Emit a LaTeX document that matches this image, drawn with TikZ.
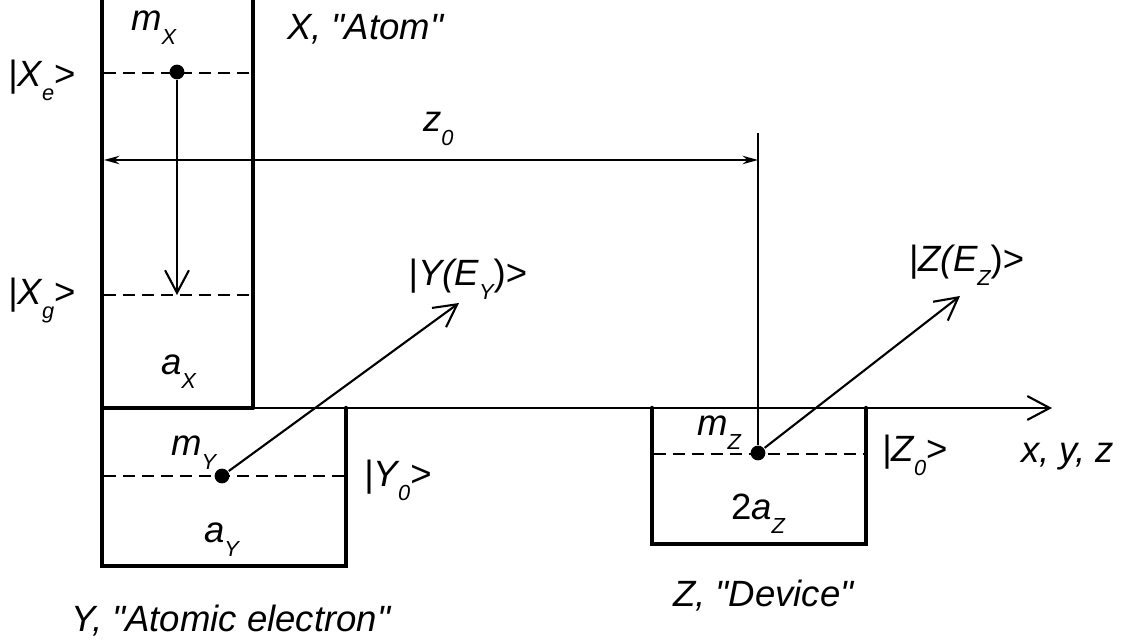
\documentclass[tikz,border=0pt]{standalone}
\usepackage{fontspec}
\usepackage{tikz}
\usetikzlibrary{arrows.meta}
\newfontfamily\labfont{Liberation Sans}
\newcommand{\lowidx}[1]{\raisebox{-9.5pt}{\fontsize{15.5}{15.5}\selectfont #1}}
\newcommand{\upchr}[1]{{\upshape #1}}

\begin{document}
\begin{tikzpicture}[line width=1.5]
    \tikzstyle{wall}=[line width=3, line cap=round]
    \tikzstyle{level}=[line width=1.2, dash pattern=on 8.5pt off 5pt]
    \tikzstyle{dot}=[circle, fill=black, inner sep=0, minimum size=10.5pt]
    \tikzstyle{lab}=[anchor=base west, inner sep=0, font=\labfont\fontsize{26}{26}\selectfont\itshape]
    \tikzstyle{barb}=[-{Straight Barb[length=16pt, width=17pt, line width=1.5]}]
    \useasboundingbox (0,0) rectangle (28.075,16.075);
    % wells
    \draw[wall] (2.55,16.2) -- (2.55,5.875) -- (6.325,5.875) (6.325,16.2) -- (6.325,5.875);
    \draw[wall] (2.55,5.875) -- (2.55,1.925) -- (8.65,1.925) -- (8.65,5.875);
    \draw[wall] (16.3,5.875) -- (16.3,2.475) -- (21.65,2.475) -- (21.65,5.875);
    % levels
    \draw[level] (2.6,14.25) -- (6.3,14.25);
    \draw[level] (2.6,8.7) -- (6.3,8.7);
    \draw[level] (2.6,4.175) -- (8.6,4.175);
    \draw[level] (16.35,4.725) -- (21.6,4.725);
    % axis and arrows
    \coordinate (axisL) at (6.325,5.875);
    \coordinate (axisR) at (26.3,5.875);
    \coordinate (tipX) at (4.425,8.7);
    \coordinate (tipY) at (11.475,8.5);
    \coordinate (tipZ) at (24,8.675);
    \coordinate (dimL) at (2.6,12.075);
    \coordinate (dimR) at (18.95,12.075);
    \coordinate (topZ) at (18.95,12.75);
    \node[dot] (dotX) at (4.425,14.275) {};
    \node[dot] (dotY) at (5.55,4.175) {};
    \node[dot] (dotZ) at (18.95,4.75) {};
    \draw[barb] (axisL) -- (axisR);
    \draw[barb] (dotX) -- (tipX);
    \draw[barb] (dotY) -- (tipY);
    \draw[barb] (dotZ) -- (tipZ);
    \draw (topZ) -- (dotZ);
    \draw[{Stealth[length=11pt, width=6pt]}-{Stealth[length=11pt, width=6pt]}, line width=1] (dimL) -- (dimR);
    % labels
    \node[lab] (mX) at (3.25,15.3) {m\lowidx{X}};
    \node[lab] (aX) at (4,6.7) {a\lowidx{X}};
    \node[lab] (nameX) at (7.15,15.08) {X, "Atom"};
    \node[lab] (Xe) at (.18,13.9) {\upchr{|}X\lowidx{e}\upchr{>}};
    \node[lab] (Xg) at (.18,8.45) {\upchr{|}X\lowidx{g}\upchr{>}};
    \node[lab] (zzero) at (10.55,12.775) {z\lowidx{0}};
    \node[lab] (YE) at (10.19,8.925) {\upchr{|}Y(E\lowidx{Y}\upchr{)>}};
    \node[lab] (mY) at (4.25,4.675) {m\lowidx{Y}};
    \node[lab] (aY) at (5.075,2.5) {a\lowidx{Y}};
    \node[lab] (Yzero) at (9.08,3.9) {\upchr{|}Y\lowidx{0}\upchr{>}};
    \node[lab] (nameY) at (1.75,.275) {Y, "Atomic electron"};
    \node[lab] (mZ) at (17.4,5.175) {m\lowidx{Z}};
    \node[lab] (aZ) at (18.25,3.075) {\upchr{2}a\lowidx{Z}};
    \node[lab] (Zzero) at (22.03,4.525) {\upchr{|}Z\lowidx{0}\upchr{>}};
    \node[lab] (axislab) at (25.5,4.5) {x, y, z};
    \node[lab] (nameZ) at (16.8,.9) {Z, "Device"};
    \node[lab] (ZE) at (22.7,9.275) {\upchr{|}Z(E\lowidx{Z}\upchr{)>}};
\end{tikzpicture}
\end{document}
